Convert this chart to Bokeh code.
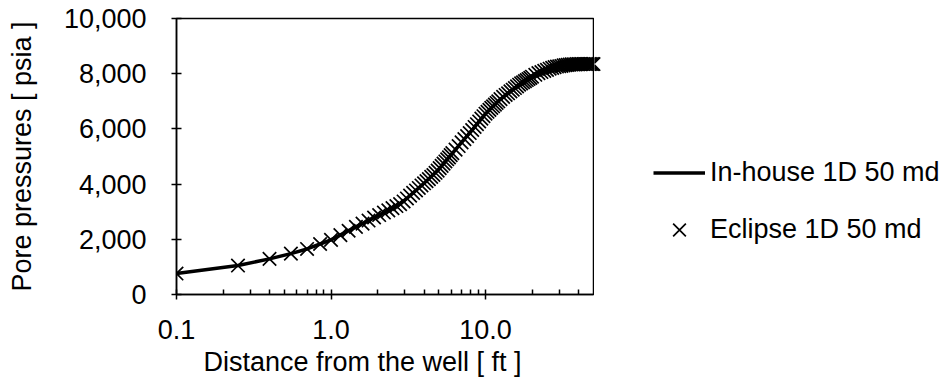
import math
from bokeh.plotting import figure
from bokeh.layouts import row
from bokeh.models import (FixedTicker, PrintfTickFormatter, NumeralTickFormatter,
                          Legend, LegendItem, Range1d, Title)
from bokeh.embed import file_html
from bokeh.resources import INLINE

# ---------------- data ----------------
inhouse_x = [0.1, 0.25, 0.4, 0.55, 0.7, 0.85, 1.0, 1.45, 2.05, 2.8, 3.4, 4.0, 4.9,
             5.8, 7.0, 8.2, 10.0, 12.5, 15.0, 17.0, 20.0, 25.0, 30.0, 36.0, 50.0]
inhouse_p = [760, 1050, 1290, 1480, 1650, 1830, 1980, 2450, 2880, 3275, 3680, 4030, 4490,
             4970, 5510, 5960, 6550, 7080, 7420, 7650, 7890, 8140, 8270, 8340, 8350]

eclipse_x = [0.1, 0.25, 0.4, 0.55, 0.7, 0.85, 1.0, 1.15, 1.3, 1.45, 1.6, 1.75, 1.9,
             2.05, 2.2, 2.35, 2.5, 2.65, 2.8, 2.95, 3.1,
             3.25, 3.4, 3.55, 3.7, 3.85, 4.0, 4.15, 4.3, 4.45, 4.6, 4.75, 4.9, 5.05,
             5.2, 5.35, 5.5, 5.65, 5.8, 5.95, 6.1,
             6.4, 6.7, 7.0, 7.3, 7.6, 7.9, 8.2, 8.5, 8.8, 9.1, 9.4, 9.7, 10.0,
             10.3, 10.6, 10.9, 11.2, 11.5, 11.8, 12.1,
             12.5, 13.0, 13.5, 14.0, 14.5, 15.0, 15.5, 16.0, 16.5, 17.0, 17.5, 18.0,
             18.5, 19.0, 19.5, 20.0,
             21, 22, 23, 24, 25, 26, 27, 28, 29, 30, 31, 32, 33, 34, 35, 36, 37, 38,
             39, 40, 41, 42, 43, 44, 45, 46, 47, 48, 49, 50]
eclipse_p = [760, 1050, 1290, 1480, 1650, 1830, 1980, 2150, 2310, 2450, 2570, 2680, 2790,
             2880, 2970, 3050, 3130, 3205, 3275, 3370, 3480,
             3580, 3680, 3770, 3860, 3950, 4030, 4110, 4180, 4260, 4330, 4410, 4490, 4580,
             4660, 4740, 4820, 4900, 4970, 5050, 5120,
             5250, 5380, 5510, 5630, 5740, 5850, 5960, 6070, 6170, 6270, 6370, 6460, 6550,
             6620, 6690, 6760, 6820, 6880, 6940, 7000,
             7080, 7160, 7230, 7290, 7360, 7420, 7480, 7540, 7600, 7650, 7690, 7730,
             7770, 7810, 7850, 7890,
             7960, 8020, 8060, 8100, 8140, 8180, 8210, 8240, 8260, 8270, 8280, 8300, 8310,
             8320, 8330, 8340, 8340, 8340,
             8345, 8345, 8345, 8350, 8350, 8350, 8350, 8350, 8350, 8350, 8350, 8350]

x_major_ticks = [0.1, 1.0, 10.0]
x_minor_ticks = [0.2, 0.3, 0.4, 0.5, 0.6, 0.7, 0.8, 0.9,
                 2, 3, 4, 5, 6, 7, 8, 9, 20, 30, 40]
y_ticks = [0, 2000, 4000, 6000, 8000, 10000]

series_names = ["In-house 1D 50 md", "Eclipse 1D 50 md"]
x_title = "Distance from the well [ ft ]"
y_title = "Pore pressures [ psia ]"

FONT = "Liberation Sans"
FS = "27px"
X_MIN, X_MAX = 0.1, 50
Y_MIN, Y_MAX = 0, 10000
FRAME_W, FRAME_H = 417, 276
LEFT, TOP, BOTTOM, RIGHT = 176, 18, 98, 1
TOTAL_W = 952

p = figure(x_axis_type="log", x_range=Range1d(X_MIN, X_MAX), y_range=Range1d(Y_MIN, Y_MAX),
           frame_width=FRAME_W, frame_height=FRAME_H,
           min_border_left=LEFT, min_border_right=RIGHT, min_border_top=TOP,
           min_border_bottom=BOTTOM, output_backend="svg", toolbar_location=None)

p.xgrid.visible = False
p.ygrid.visible = False
p.outline_line_color = "black"
p.outline_line_width = 1.5
p.background_fill_color = "white"
p.border_fill_color = "white"

p.line(inhouse_x, inhouse_p, line_color="black", line_width=3.5)
p.scatter(eclipse_x, eclipse_p, marker="x", size=19, line_color="black", line_width=1.7)

xa = p.xaxis[0]
xa.ticker = FixedTicker(ticks=x_major_ticks, minor_ticks=x_minor_ticks)
xa.formatter = PrintfTickFormatter(format="%.1f")

ya = p.yaxis[0]
ya.ticker = FixedTicker(ticks=y_ticks, num_minor_ticks=5)
ya.formatter = NumeralTickFormatter(format="0,0")
ya.axis_label = y_title

for ax in (xa, ya):
    ax.axis_line_color = "black"
    ax.axis_line_width = 1.5
    ax.major_tick_line_color = "black"
    ax.major_tick_line_width = 1.5
    ax.minor_tick_line_color = "black"
    ax.minor_tick_line_width = 1.5
    ax.major_tick_in = 5
    ax.major_tick_out = 5
    ax.minor_tick_in = 5
    ax.minor_tick_out = 0
    ax.major_label_text_font = FONT
    ax.major_label_text_font_size = FS
    ax.major_label_text_color = "black"
    ax.axis_label_text_font = FONT
    ax.axis_label_text_font_size = FS
    ax.axis_label_text_font_style = "normal"
    ax.axis_label_text_color = "black"

xa.major_label_standoff = 20
ya.major_label_standoff = 25
ya.axis_label_standoff = 24

# x-axis title: left-shifted like the reference
p.add_layout(Title(text=x_title, align="left", offset=27, vertical_align="top",
                   standoff=10, text_font=FONT, text_font_size=FS,
                   text_font_style="normal", text_color="black"), "below")

# ---------------- right panel: marker overhang + legend ----------------
p_width = LEFT + FRAME_W + RIGHT
q_width = TOTAL_W - p_width
px_per_decade = FRAME_W / math.log10(X_MAX / X_MIN)
q_x0 = X_MAX * 10 ** (RIGHT / px_per_decade)
q_x1 = X_MAX * 10 ** ((RIGHT + q_width) / px_per_decade)

q = figure(width=q_width, height=TOP + FRAME_H + BOTTOM, x_axis_type="log",
           x_range=Range1d(q_x0, q_x1), y_range=Range1d(Y_MIN, Y_MAX),
           min_border=0, output_backend="svg", toolbar_location=None,
           x_axis_location=None, y_axis_location=None)
q.xgrid.visible = False
q.ygrid.visible = False
q.outline_line_color = None
q.background_fill_color = "white"
q.border_fill_color = "white"

# same Eclipse markers: only the parts sticking out past the plot border show here
mr = q.scatter(eclipse_x, eclipse_p, marker="x", size=19, line_color="black", line_width=1.7)
lr = q.line(inhouse_x, inhouse_p, line_color="black", line_width=3.5)

leg = Legend(items=[LegendItem(label=series_names[0], renderers=[lr]),
                    LegendItem(label=series_names[1], renderers=[mr])],
             location=(59, 42), glyph_width=52, glyph_height=45, label_height=45,
             spacing=12, label_standoff=5, padding=0, margin=0,
             border_line_color=None, background_fill_alpha=0,
             label_text_font=FONT, label_text_font_size=FS, label_text_color="black")
q.add_layout(leg)

layout = row(p, q)
open("out.html", "w").write(file_html(layout, INLINE))
